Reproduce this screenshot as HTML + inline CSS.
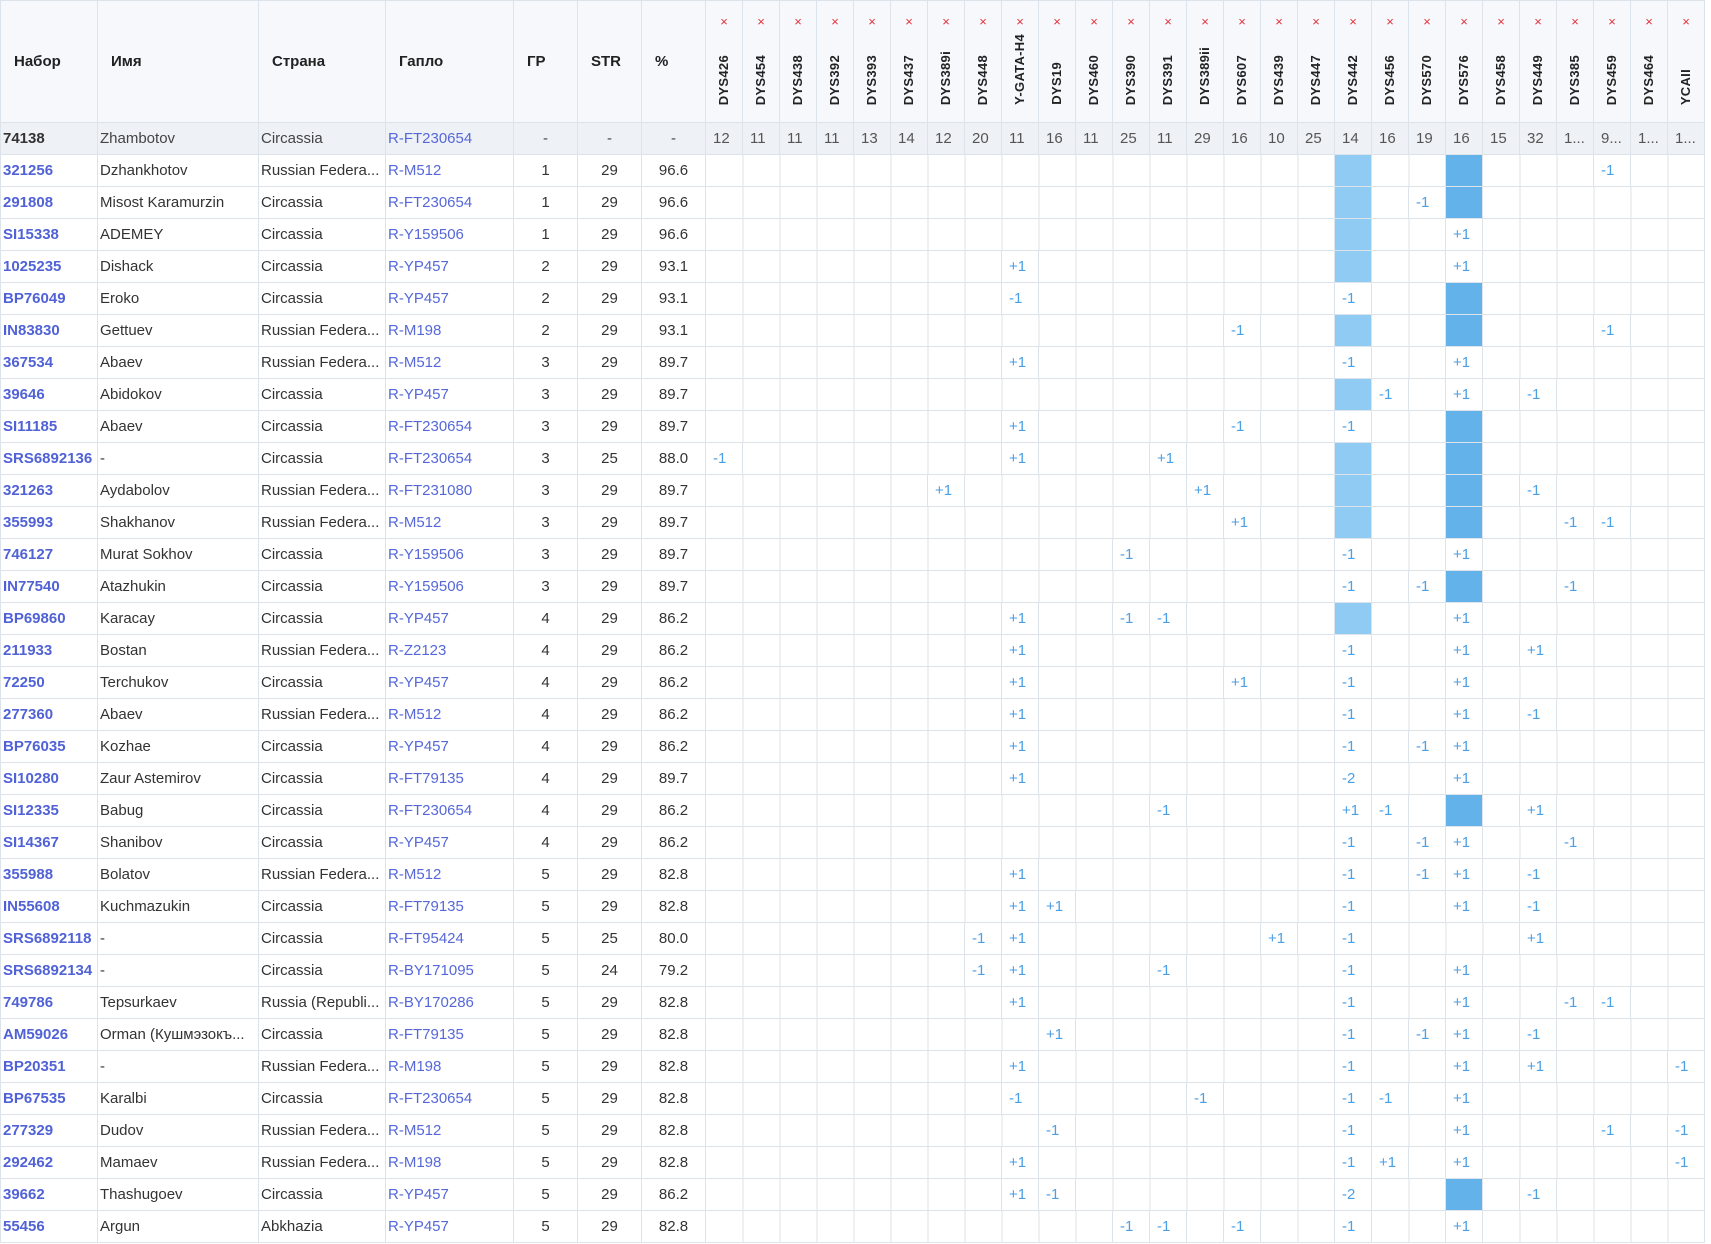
<!DOCTYPE html>
<html><head><meta charset="utf-8"><style>
body{margin:0;background:#fff;font-family:"Liberation Sans","DejaVu Sans",sans-serif;}
table{border-collapse:collapse;table-layout:fixed;width:1704px;font-size:15px;color:#333;}
td,th{border:1px solid #dde3ea;height:31px;padding:0 0 0 2px;white-space:nowrap;overflow:hidden;text-overflow:ellipsis;}
thead th{height:121px;background:#f6f8fb;text-align:left;font-weight:bold;padding-left:13px;color:#222;position:relative;}
thead th.m{padding:0;}
th.m .x{position:absolute;top:13px;left:0;right:0;text-align:center;color:#e5323c;font-size:13px;font-weight:normal;}
th.m .n{position:absolute;bottom:17px;left:50%;margin-left:-8px;writing-mode:vertical-rl;transform:rotate(180deg);font-size:13px;letter-spacing:0.3px;}
tbody td.m{padding-left:7px;color:#4a9fe5;}
td.e{padding:0;background:repeating-linear-gradient(to right,transparent 0 36px,#dde3ea 36px 37px);}
tr.r td{background:#eef1f5;color:#444;}
tr.r td.m{color:#555;}
td.a{font-weight:bold;color:#5062d6;}
tr.r td.a{color:#333;}
td.c{text-align:center;padding:0;}
td.g,tr.r td.g{color:#5668d9;}
td.h{background:#90cbf4;}
td.d{background:#64b2ea;}
</style></head><body>
<table>
<colgroup><col style="width:97px"><col style="width:161px"><col style="width:127px"><col style="width:128px"><col style="width:64px"><col style="width:64px"><col style="width:64px">
<col span="27" style="width:37px"></colgroup>
<thead><tr><th>Набор</th><th>Имя</th><th>Страна</th><th>Гапло</th><th>ГР</th><th>STR</th><th>%</th>
<th class="m"><span class="x">×</span><span class="n">DYS426</span></th>
<th class="m"><span class="x">×</span><span class="n">DYS454</span></th>
<th class="m"><span class="x">×</span><span class="n">DYS438</span></th>
<th class="m"><span class="x">×</span><span class="n">DYS392</span></th>
<th class="m"><span class="x">×</span><span class="n">DYS393</span></th>
<th class="m"><span class="x">×</span><span class="n">DYS437</span></th>
<th class="m"><span class="x">×</span><span class="n">DYS389i</span></th>
<th class="m"><span class="x">×</span><span class="n">DYS448</span></th>
<th class="m"><span class="x">×</span><span class="n">Y-GATA-H4</span></th>
<th class="m"><span class="x">×</span><span class="n">DYS19</span></th>
<th class="m"><span class="x">×</span><span class="n">DYS460</span></th>
<th class="m"><span class="x">×</span><span class="n">DYS390</span></th>
<th class="m"><span class="x">×</span><span class="n">DYS391</span></th>
<th class="m"><span class="x">×</span><span class="n">DYS389ii</span></th>
<th class="m"><span class="x">×</span><span class="n">DYS607</span></th>
<th class="m"><span class="x">×</span><span class="n">DYS439</span></th>
<th class="m"><span class="x">×</span><span class="n">DYS447</span></th>
<th class="m"><span class="x">×</span><span class="n">DYS442</span></th>
<th class="m"><span class="x">×</span><span class="n">DYS456</span></th>
<th class="m"><span class="x">×</span><span class="n">DYS570</span></th>
<th class="m"><span class="x">×</span><span class="n">DYS576</span></th>
<th class="m"><span class="x">×</span><span class="n">DYS458</span></th>
<th class="m"><span class="x">×</span><span class="n">DYS449</span></th>
<th class="m"><span class="x">×</span><span class="n">DYS385</span></th>
<th class="m"><span class="x">×</span><span class="n">DYS459</span></th>
<th class="m"><span class="x">×</span><span class="n">DYS464</span></th>
<th class="m"><span class="x">×</span><span class="n">YCAII</span></th>
</tr></thead>
<tbody>
<tr class="r"><td class="a">74138</td><td>Zhambotov</td><td>Circassia</td><td class="g">R-FT230654</td><td class="c">-</td><td class="c">-</td><td class="c">-</td><td class="m">12</td><td class="m">11</td><td class="m">11</td><td class="m">11</td><td class="m">13</td><td class="m">14</td><td class="m">12</td><td class="m">20</td><td class="m">11</td><td class="m">16</td><td class="m">11</td><td class="m">25</td><td class="m">11</td><td class="m">29</td><td class="m">16</td><td class="m">10</td><td class="m">25</td><td class="m">14</td><td class="m">16</td><td class="m">19</td><td class="m">16</td><td class="m">15</td><td class="m">32</td><td class="m">1...</td><td class="m">9...</td><td class="m">1...</td><td class="m">1...</td></tr>
<tr><td class="a">321256</td><td>Dzhankhotov</td><td>Russian Federa...</td><td class="g">R-M512</td><td class="c">1</td><td class="c">29</td><td class="c">96.6</td><td class="e" colspan="17"></td><td class="h"></td><td class="e" colspan="2"></td><td class="d"></td><td class="e" colspan="3"></td><td class="m">-1</td><td class="e" colspan="2"></td></tr>
<tr><td class="a">291808</td><td>Misost Karamurzin</td><td>Circassia</td><td class="g">R-FT230654</td><td class="c">1</td><td class="c">29</td><td class="c">96.6</td><td class="e" colspan="17"></td><td class="h"></td><td class="e" colspan="1"></td><td class="m">-1</td><td class="d"></td><td class="e" colspan="6"></td></tr>
<tr><td class="a">SI15338</td><td>ADEMEY</td><td>Circassia</td><td class="g">R-Y159506</td><td class="c">1</td><td class="c">29</td><td class="c">96.6</td><td class="e" colspan="17"></td><td class="h"></td><td class="e" colspan="2"></td><td class="m">+1</td><td class="e" colspan="6"></td></tr>
<tr><td class="a">1025235</td><td>Dishack</td><td>Circassia</td><td class="g">R-YP457</td><td class="c">2</td><td class="c">29</td><td class="c">93.1</td><td class="e" colspan="8"></td><td class="m">+1</td><td class="e" colspan="8"></td><td class="h"></td><td class="e" colspan="2"></td><td class="m">+1</td><td class="e" colspan="6"></td></tr>
<tr><td class="a">BP76049</td><td>Eroko</td><td>Circassia</td><td class="g">R-YP457</td><td class="c">2</td><td class="c">29</td><td class="c">93.1</td><td class="e" colspan="8"></td><td class="m">-1</td><td class="e" colspan="8"></td><td class="m">-1</td><td class="e" colspan="2"></td><td class="d"></td><td class="e" colspan="6"></td></tr>
<tr><td class="a">IN83830</td><td>Gettuev</td><td>Russian Federa...</td><td class="g">R-M198</td><td class="c">2</td><td class="c">29</td><td class="c">93.1</td><td class="e" colspan="14"></td><td class="m">-1</td><td class="e" colspan="2"></td><td class="h"></td><td class="e" colspan="2"></td><td class="d"></td><td class="e" colspan="3"></td><td class="m">-1</td><td class="e" colspan="2"></td></tr>
<tr><td class="a">367534</td><td>Abaev</td><td>Russian Federa...</td><td class="g">R-M512</td><td class="c">3</td><td class="c">29</td><td class="c">89.7</td><td class="e" colspan="8"></td><td class="m">+1</td><td class="e" colspan="8"></td><td class="m">-1</td><td class="e" colspan="2"></td><td class="m">+1</td><td class="e" colspan="6"></td></tr>
<tr><td class="a">39646</td><td>Abidokov</td><td>Circassia</td><td class="g">R-YP457</td><td class="c">3</td><td class="c">29</td><td class="c">89.7</td><td class="e" colspan="17"></td><td class="h"></td><td class="m">-1</td><td class="e" colspan="1"></td><td class="m">+1</td><td class="e" colspan="1"></td><td class="m">-1</td><td class="e" colspan="4"></td></tr>
<tr><td class="a">SI11185</td><td>Abaev</td><td>Circassia</td><td class="g">R-FT230654</td><td class="c">3</td><td class="c">29</td><td class="c">89.7</td><td class="e" colspan="8"></td><td class="m">+1</td><td class="e" colspan="5"></td><td class="m">-1</td><td class="e" colspan="2"></td><td class="m">-1</td><td class="e" colspan="2"></td><td class="d"></td><td class="e" colspan="6"></td></tr>
<tr><td class="a">SRS6892136</td><td>-</td><td>Circassia</td><td class="g">R-FT230654</td><td class="c">3</td><td class="c">25</td><td class="c">88.0</td><td class="m">-1</td><td class="e" colspan="7"></td><td class="m">+1</td><td class="e" colspan="3"></td><td class="m">+1</td><td class="e" colspan="4"></td><td class="h"></td><td class="e" colspan="2"></td><td class="d"></td><td class="e" colspan="6"></td></tr>
<tr><td class="a">321263</td><td>Aydabolov</td><td>Russian Federa...</td><td class="g">R-FT231080</td><td class="c">3</td><td class="c">29</td><td class="c">89.7</td><td class="e" colspan="6"></td><td class="m">+1</td><td class="e" colspan="6"></td><td class="m">+1</td><td class="e" colspan="3"></td><td class="h"></td><td class="e" colspan="2"></td><td class="d"></td><td class="e" colspan="1"></td><td class="m">-1</td><td class="e" colspan="4"></td></tr>
<tr><td class="a">355993</td><td>Shakhanov</td><td>Russian Federa...</td><td class="g">R-M512</td><td class="c">3</td><td class="c">29</td><td class="c">89.7</td><td class="e" colspan="14"></td><td class="m">+1</td><td class="e" colspan="2"></td><td class="h"></td><td class="e" colspan="2"></td><td class="d"></td><td class="e" colspan="2"></td><td class="m">-1</td><td class="m">-1</td><td class="e" colspan="2"></td></tr>
<tr><td class="a">746127</td><td>Murat Sokhov</td><td>Circassia</td><td class="g">R-Y159506</td><td class="c">3</td><td class="c">29</td><td class="c">89.7</td><td class="e" colspan="11"></td><td class="m">-1</td><td class="e" colspan="5"></td><td class="m">-1</td><td class="e" colspan="2"></td><td class="m">+1</td><td class="e" colspan="6"></td></tr>
<tr><td class="a">IN77540</td><td>Atazhukin</td><td>Circassia</td><td class="g">R-Y159506</td><td class="c">3</td><td class="c">29</td><td class="c">89.7</td><td class="e" colspan="17"></td><td class="m">-1</td><td class="e" colspan="1"></td><td class="m">-1</td><td class="d"></td><td class="e" colspan="2"></td><td class="m">-1</td><td class="e" colspan="3"></td></tr>
<tr><td class="a">BP69860</td><td>Karacay</td><td>Circassia</td><td class="g">R-YP457</td><td class="c">4</td><td class="c">29</td><td class="c">86.2</td><td class="e" colspan="8"></td><td class="m">+1</td><td class="e" colspan="2"></td><td class="m">-1</td><td class="m">-1</td><td class="e" colspan="4"></td><td class="h"></td><td class="e" colspan="2"></td><td class="m">+1</td><td class="e" colspan="6"></td></tr>
<tr><td class="a">211933</td><td>Bostan</td><td>Russian Federa...</td><td class="g">R-Z2123</td><td class="c">4</td><td class="c">29</td><td class="c">86.2</td><td class="e" colspan="8"></td><td class="m">+1</td><td class="e" colspan="8"></td><td class="m">-1</td><td class="e" colspan="2"></td><td class="m">+1</td><td class="e" colspan="1"></td><td class="m">+1</td><td class="e" colspan="4"></td></tr>
<tr><td class="a">72250</td><td>Terchukov</td><td>Circassia</td><td class="g">R-YP457</td><td class="c">4</td><td class="c">29</td><td class="c">86.2</td><td class="e" colspan="8"></td><td class="m">+1</td><td class="e" colspan="5"></td><td class="m">+1</td><td class="e" colspan="2"></td><td class="m">-1</td><td class="e" colspan="2"></td><td class="m">+1</td><td class="e" colspan="6"></td></tr>
<tr><td class="a">277360</td><td>Abaev</td><td>Russian Federa...</td><td class="g">R-M512</td><td class="c">4</td><td class="c">29</td><td class="c">86.2</td><td class="e" colspan="8"></td><td class="m">+1</td><td class="e" colspan="8"></td><td class="m">-1</td><td class="e" colspan="2"></td><td class="m">+1</td><td class="e" colspan="1"></td><td class="m">-1</td><td class="e" colspan="4"></td></tr>
<tr><td class="a">BP76035</td><td>Kozhae</td><td>Circassia</td><td class="g">R-YP457</td><td class="c">4</td><td class="c">29</td><td class="c">86.2</td><td class="e" colspan="8"></td><td class="m">+1</td><td class="e" colspan="8"></td><td class="m">-1</td><td class="e" colspan="1"></td><td class="m">-1</td><td class="m">+1</td><td class="e" colspan="6"></td></tr>
<tr><td class="a">SI10280</td><td>Zaur Astemirov</td><td>Circassia</td><td class="g">R-FT79135</td><td class="c">4</td><td class="c">29</td><td class="c">89.7</td><td class="e" colspan="8"></td><td class="m">+1</td><td class="e" colspan="8"></td><td class="m">-2</td><td class="e" colspan="2"></td><td class="m">+1</td><td class="e" colspan="6"></td></tr>
<tr><td class="a">SI12335</td><td>Babug</td><td>Circassia</td><td class="g">R-FT230654</td><td class="c">4</td><td class="c">29</td><td class="c">86.2</td><td class="e" colspan="12"></td><td class="m">-1</td><td class="e" colspan="4"></td><td class="m">+1</td><td class="m">-1</td><td class="e" colspan="1"></td><td class="d"></td><td class="e" colspan="1"></td><td class="m">+1</td><td class="e" colspan="4"></td></tr>
<tr><td class="a">SI14367</td><td>Shanibov</td><td>Circassia</td><td class="g">R-YP457</td><td class="c">4</td><td class="c">29</td><td class="c">86.2</td><td class="e" colspan="17"></td><td class="m">-1</td><td class="e" colspan="1"></td><td class="m">-1</td><td class="m">+1</td><td class="e" colspan="2"></td><td class="m">-1</td><td class="e" colspan="3"></td></tr>
<tr><td class="a">355988</td><td>Bolatov</td><td>Russian Federa...</td><td class="g">R-M512</td><td class="c">5</td><td class="c">29</td><td class="c">82.8</td><td class="e" colspan="8"></td><td class="m">+1</td><td class="e" colspan="8"></td><td class="m">-1</td><td class="e" colspan="1"></td><td class="m">-1</td><td class="m">+1</td><td class="e" colspan="1"></td><td class="m">-1</td><td class="e" colspan="4"></td></tr>
<tr><td class="a">IN55608</td><td>Kuchmazukin</td><td>Circassia</td><td class="g">R-FT79135</td><td class="c">5</td><td class="c">29</td><td class="c">82.8</td><td class="e" colspan="8"></td><td class="m">+1</td><td class="m">+1</td><td class="e" colspan="7"></td><td class="m">-1</td><td class="e" colspan="2"></td><td class="m">+1</td><td class="e" colspan="1"></td><td class="m">-1</td><td class="e" colspan="4"></td></tr>
<tr><td class="a">SRS6892118</td><td>-</td><td>Circassia</td><td class="g">R-FT95424</td><td class="c">5</td><td class="c">25</td><td class="c">80.0</td><td class="e" colspan="7"></td><td class="m">-1</td><td class="m">+1</td><td class="e" colspan="6"></td><td class="m">+1</td><td class="e" colspan="1"></td><td class="m">-1</td><td class="e" colspan="4"></td><td class="m">+1</td><td class="e" colspan="4"></td></tr>
<tr><td class="a">SRS6892134</td><td>-</td><td>Circassia</td><td class="g">R-BY171095</td><td class="c">5</td><td class="c">24</td><td class="c">79.2</td><td class="e" colspan="7"></td><td class="m">-1</td><td class="m">+1</td><td class="e" colspan="3"></td><td class="m">-1</td><td class="e" colspan="4"></td><td class="m">-1</td><td class="e" colspan="2"></td><td class="m">+1</td><td class="e" colspan="6"></td></tr>
<tr><td class="a">749786</td><td>Tepsurkaev</td><td>Russia (Republi...</td><td class="g">R-BY170286</td><td class="c">5</td><td class="c">29</td><td class="c">82.8</td><td class="e" colspan="8"></td><td class="m">+1</td><td class="e" colspan="8"></td><td class="m">-1</td><td class="e" colspan="2"></td><td class="m">+1</td><td class="e" colspan="2"></td><td class="m">-1</td><td class="m">-1</td><td class="e" colspan="2"></td></tr>
<tr><td class="a">AM59026</td><td>Orman (Кушмэзокъ...</td><td>Circassia</td><td class="g">R-FT79135</td><td class="c">5</td><td class="c">29</td><td class="c">82.8</td><td class="e" colspan="9"></td><td class="m">+1</td><td class="e" colspan="7"></td><td class="m">-1</td><td class="e" colspan="1"></td><td class="m">-1</td><td class="m">+1</td><td class="e" colspan="1"></td><td class="m">-1</td><td class="e" colspan="4"></td></tr>
<tr><td class="a">BP20351</td><td>-</td><td>Russian Federa...</td><td class="g">R-M198</td><td class="c">5</td><td class="c">29</td><td class="c">82.8</td><td class="e" colspan="8"></td><td class="m">+1</td><td class="e" colspan="8"></td><td class="m">-1</td><td class="e" colspan="2"></td><td class="m">+1</td><td class="e" colspan="1"></td><td class="m">+1</td><td class="e" colspan="3"></td><td class="m">-1</td></tr>
<tr><td class="a">BP67535</td><td>Karalbi</td><td>Circassia</td><td class="g">R-FT230654</td><td class="c">5</td><td class="c">29</td><td class="c">82.8</td><td class="e" colspan="8"></td><td class="m">-1</td><td class="e" colspan="4"></td><td class="m">-1</td><td class="e" colspan="3"></td><td class="m">-1</td><td class="m">-1</td><td class="e" colspan="1"></td><td class="m">+1</td><td class="e" colspan="6"></td></tr>
<tr><td class="a">277329</td><td>Dudov</td><td>Russian Federa...</td><td class="g">R-M512</td><td class="c">5</td><td class="c">29</td><td class="c">82.8</td><td class="e" colspan="9"></td><td class="m">-1</td><td class="e" colspan="7"></td><td class="m">-1</td><td class="e" colspan="2"></td><td class="m">+1</td><td class="e" colspan="3"></td><td class="m">-1</td><td class="e" colspan="1"></td><td class="m">-1</td></tr>
<tr><td class="a">292462</td><td>Mamaev</td><td>Russian Federa...</td><td class="g">R-M198</td><td class="c">5</td><td class="c">29</td><td class="c">82.8</td><td class="e" colspan="8"></td><td class="m">+1</td><td class="e" colspan="8"></td><td class="m">-1</td><td class="m">+1</td><td class="e" colspan="1"></td><td class="m">+1</td><td class="e" colspan="5"></td><td class="m">-1</td></tr>
<tr><td class="a">39662</td><td>Thashugoev</td><td>Circassia</td><td class="g">R-YP457</td><td class="c">5</td><td class="c">29</td><td class="c">86.2</td><td class="e" colspan="8"></td><td class="m">+1</td><td class="m">-1</td><td class="e" colspan="7"></td><td class="m">-2</td><td class="e" colspan="2"></td><td class="d"></td><td class="e" colspan="1"></td><td class="m">-1</td><td class="e" colspan="4"></td></tr>
<tr><td class="a">55456</td><td>Argun</td><td>Abkhazia</td><td class="g">R-YP457</td><td class="c">5</td><td class="c">29</td><td class="c">82.8</td><td class="e" colspan="11"></td><td class="m">-1</td><td class="m">-1</td><td class="e" colspan="1"></td><td class="m">-1</td><td class="e" colspan="2"></td><td class="m">-1</td><td class="e" colspan="2"></td><td class="m">+1</td><td class="e" colspan="6"></td></tr>
</tbody></table>
</body></html>
